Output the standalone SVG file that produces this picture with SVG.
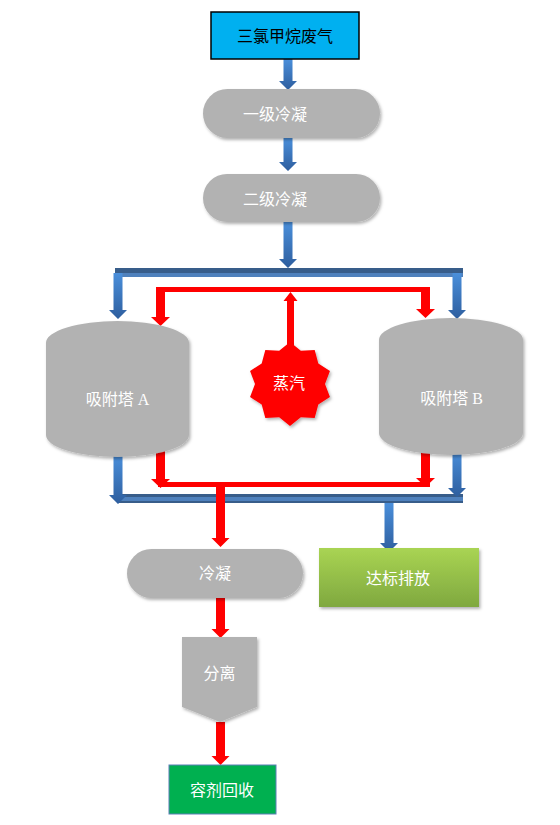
<svg xmlns="http://www.w3.org/2000/svg" width="560" height="825" viewBox="0 0 560 825">
<defs>
<linearGradient id="gBlue" x1="0" y1="0" x2="0" y2="1">
<stop offset="0" stop-color="#4A8FDB"/>
<stop offset="1" stop-color="#2E5E9E"/>
</linearGradient>
<linearGradient id="gGreen" x1="0" y1="0" x2="0" y2="1">
<stop offset="0" stop-color="#A9D453"/>
<stop offset="1" stop-color="#7FA83F"/>
</linearGradient>
<filter id="sh" x="-10%" y="-10%" width="130%" height="130%">
<feDropShadow dx="1.5" dy="2" stdDeviation="1.5" flood-color="#000" flood-opacity="0.3"/>
</filter>
<style>
.t{font-family:"Liberation Serif","Noto Sans CJK SC",serif;font-size:16px;text-anchor:middle;fill:#fff}
.tb{fill:#000}
.gray{fill:#B2B2B2;filter:url(#sh)}
.blue{fill:url(#gBlue)}
.red{fill:#FF0000}
.bar{fill:#4F81BD}
.bard{fill:#385D8A}
</style>
</defs>

<g id="connectors">
<!-- blue top bar -->
<rect class="bar" x="115" y="268" width="348" height="9"/>
<rect class="bard" x="115" y="268" width="348" height="5"/>
<!-- red top bar -->
<rect class="red" x="156" y="287" width="274" height="5"/>
<!-- red bottom bar -->
<rect class="red" x="158" y="482" width="272" height="5"/>
<!-- blue bottom bar -->
<rect class="bar" x="118" y="494" width="345" height="9"/>
<rect class="bard" x="118" y="494" width="345" height="3"/>
<rect class="bard" x="118" y="501" width="345" height="2"/>

<polygon class="blue" points="283.5,59 292.5,59 292.5,81 297,81 288,90 279,81 283.5,81"/>
<polygon class="blue" points="283.5,138 292.5,138 292.5,162 297,162 288,171 279,162 283.5,162"/>
<polygon class="blue" points="283.5,222 292.5,222 292.5,259 297,259 288,268 279,259 283.5,259"/>
<polygon class="blue" points="113.5,273 122.5,273 122.5,310 127,310 118,319 109,310 113.5,310"/>
<polygon class="blue" points="452.5,273 461.5,273 461.5,310 466,310 457,319 448,310 452.5,310"/>
<polygon class="red" points="156,287 165,287 165,317 170,317 160.5,326 151,317 156,317"/>
<polygon class="red" points="421,287 430,287 430,309 435,309 425.5,318 416,309 421,309"/>
<polygon class="red" points="287,346 294,346 294,301 297.5,301 290.5,292 283.5,301 287,301"/>
<polygon class="blue" points="113.5,455 122.5,455 122.5,495 127,495 118,504 109,495 113.5,495"/>
<polygon class="red" points="156,449 165,449 165,479 170,479 160.5,488 151,479 156,479"/>
<polygon class="red" points="421,452 430,452 430,478 435,478 425.5,487 416,478 421,478"/>
<polygon class="blue" points="452.5,450 461.5,450 461.5,488 466,488 457,497 448,488 452.5,488"/>
<polygon class="red" points="216,487 225,487 225,538 229.5,538 220.5,547 211.5,538 216,538"/>
<polygon class="blue" points="384.5,503 393.5,503 393.5,543 398,543 389,552 380,543 384.5,543"/>
<polygon class="red" points="216,598 225,598 225,629 229.5,629 220.5,638 211.5,629 216,629"/>
<polygon class="red" points="216,722 225,722 225,756 229.5,756 220.5,765 211.5,756 216,756"/>
</g>

<g id="node-source">
<rect x="211" y="12" width="148" height="47" fill="#00B0F0" stroke="#000" stroke-width="1.5"/>
<text class="t tb" x="285" y="42">三氯甲烷废气</text>
</g>

<g id="node-cond1">
<rect class="gray" x="203" y="89" width="177" height="49" rx="24.5"/>
<text class="t" x="275" y="120">一级冷凝</text>
</g>

<g id="node-cond2">
<rect class="gray" x="203" y="174" width="177" height="48" rx="24"/>
<text class="t" x="275" y="205">二级冷凝</text>
</g>

<g id="node-towerA">
<path class="gray" d="M46,343 A71.5,22 0 0 1 189,343 V435 A71.5,22 0 0 1 46,435 Z"/>
<text class="t" x="117.5" y="405">吸附塔 A</text>
</g>

<g id="node-towerB">
<path class="gray" d="M379,340 A72,22 0 0 1 523,340 V433 A72,22 0 0 1 379,433 Z"/>
<text class="t" x="451.5" y="404">吸附塔 B</text>
</g>

<g id="node-steam">
<polygon fill="#FF0000" filter="url(#sh)" points="290,342 300.82,350.71 314.69,350.02 318.32,363.43 329.95,371.02 325,384 329.95,396.98 318.32,404.57 314.69,417.98 300.82,417.29 290,426 279.18,417.29 265.31,417.98 261.68,404.57 250.05,396.98 255,384 250.05,371.02 261.68,363.43 265.31,350.02 279.18,350.71"/>
<text class="t" x="289" y="389">蒸汽</text>
</g>

<g id="node-cond3">
<rect class="gray" x="127" y="549" width="176" height="49" rx="24.5"/>
<text class="t" x="215" y="579">冷凝</text>
</g>

<g id="node-emit">
<rect x="319" y="548" width="160" height="59" fill="url(#gGreen)" filter="url(#sh)"/>
<text class="t" x="398" y="584">达标排放</text>
</g>

<g id="node-sep">
<polygon class="gray" points="182,637 257,637 257,707 220,722 182,707"/>
<text class="t" x="219.5" y="679">分离</text>
</g>

<g id="node-recover">
<rect x="169" y="765" width="107" height="49" fill="#00B050" stroke="#5B7FB5" stroke-width="1"/>
<text class="t" x="222" y="796">容剂回收</text>
</g>
</svg>
